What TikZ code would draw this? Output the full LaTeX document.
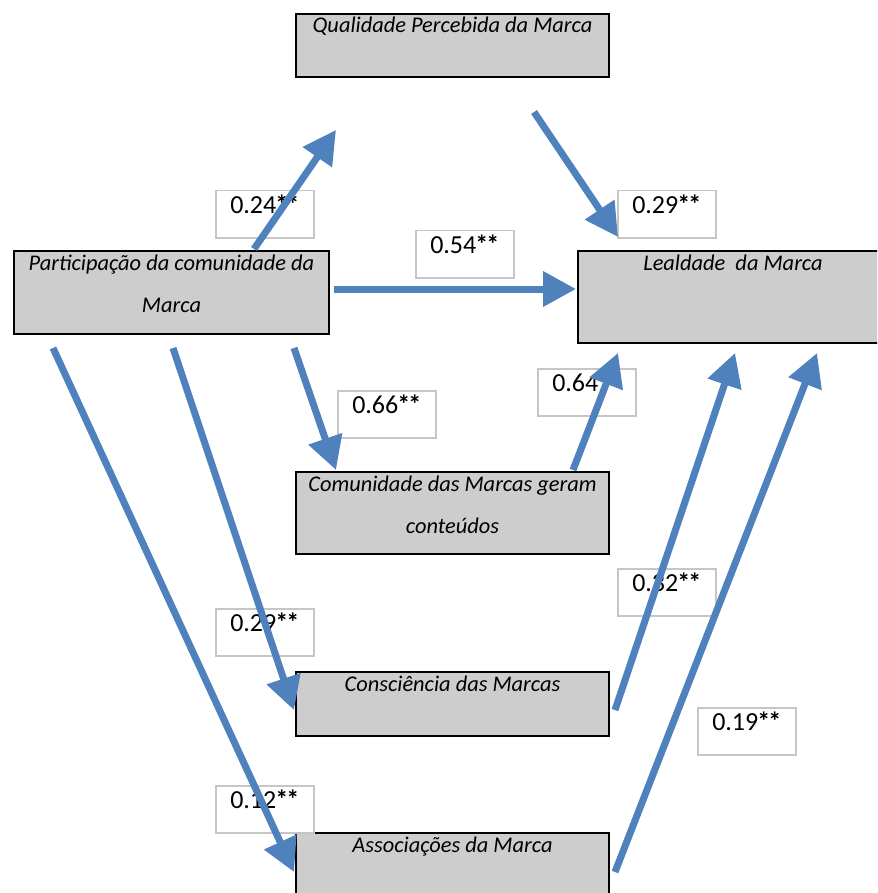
\documentclass[tikz,border=0pt]{standalone}
\usepackage{fontspec}
\setmainfont{Carlito}
\usetikzlibrary{arrows.meta}
\definecolor{pathblue}{HTML}{4F81BD}
\definecolor{boxgray}{HTML}{CDCDCD}
\definecolor{tagedge}{HTML}{C6C6C6}
\newcommand{\sig}{\kern-1pt\textbf{*\kern-2pt*}}
\tikzset{
  construct/.style={draw=black, line width=2pt, fill=boxgray, anchor=north west,
    inner xsep=0pt, inner ysep=0pt, text height=19pt,
    font=\fontsize{22.4}{42}\selectfont\itshape},
  coef/.style={draw=tagedge, line width=1.5pt, fill=white, anchor=north west,
    minimum width=98pt, inner xsep=0pt, inner ysep=5pt, text height=18pt,
    text depth=19pt, font=\fontsize{26}{30}\selectfont},
  pathline/.style={draw=pathblue, line width=7pt,
    -{Triangle[length=33pt,width=34pt]}},
}
\begin{document}
\begin{tikzpicture}[x=1pt,y=-1pt]
\clip (0,0) rectangle (877,893);

% constructs
\node[construct, minimum width=313pt, text depth=44pt] (qual) at (295,13)
  {Qualidade Percebida da Marca};
\node[construct, minimum width=315pt, text depth=64pt] (part) at (13,250)
  {\begin{tabular}[t]{@{}c@{}}Participação da comunidade da\\Marca\end{tabular}};
\node[construct, minimum width=310pt, text depth=73pt] (leal) at (577,250)
  {Lealdade~ da Marca};
\node[construct, minimum width=313pt, text depth=63pt] (comu) at (295,471)
  {\begin{tabular}[t]{@{}c@{}}Comunidade das Marcas geram\\conteúdos\end{tabular}};
\node[construct, minimum width=313pt, text depth=45pt] (cons) at (295,671)
  {Consciência das Marcas};
\node[construct, minimum width=313pt, text depth=61pt] (asso) at (295,832)
  {Associações da Marca};

% path coefficients
\node[coef] (k24) at (215,190) {0.24\sig};
\node[coef] (k29a) at (617,190) {0.29\sig};
\node[coef] (k54) at (415,230) {0.54\sig};
\node[coef] (k66) at (337,390) {0.66\sig};
\node[coef] (k64) at (537,368) {0.64\sig};
\node[coef] (k32) at (617,568) {0.32\sig};
\node[coef] (k29b) at (215,608) {0.29\sig};
\node[coef] (k19) at (697,707) {0.19\sig};
\node[coef] (k12) at (215,785) {0.12\sig};

% arrow end points
\coordinate (p24s) at (254,249);  \coordinate (p24e) at (336,130);
\coordinate (p29s) at (534,112);  \coordinate (p29e) at (618,237);
\coordinate (p54s) at (334,289);  \coordinate (p54e) at (576,289);
\coordinate (p66s) at (294,348);  \coordinate (p66e) at (336,470);
\coordinate (p64s) at (573,470);  \coordinate (p64e) at (618,353);
\coordinate (p32s) at (615,710);  \coordinate (p32e) at (735,353);
\coordinate (p19s) at (615,872);  \coordinate (p19e) at (817,353);
\coordinate (pcss) at (173,348);  \coordinate (pcse) at (294,710);
\coordinate (pass) at (53,348);   \coordinate (pase) at (294,872);

% paths
\draw[pathline] (p24s) -- (p24e);
\draw[pathline] (p29s) -- (p29e);
\draw[pathline] (p54s) -- (p54e);
\draw[pathline] (p66s) -- (p66e);
\draw[pathline] (p64s) -- (p64e);
\draw[pathline] (p32s) -- (p32e);
\draw[pathline] (p19s) -- (p19e);
\draw[pathline] (pcss) -- (pcse);
\draw[pathline] (pass) -- (pase);
\end{tikzpicture}
\end{document}
